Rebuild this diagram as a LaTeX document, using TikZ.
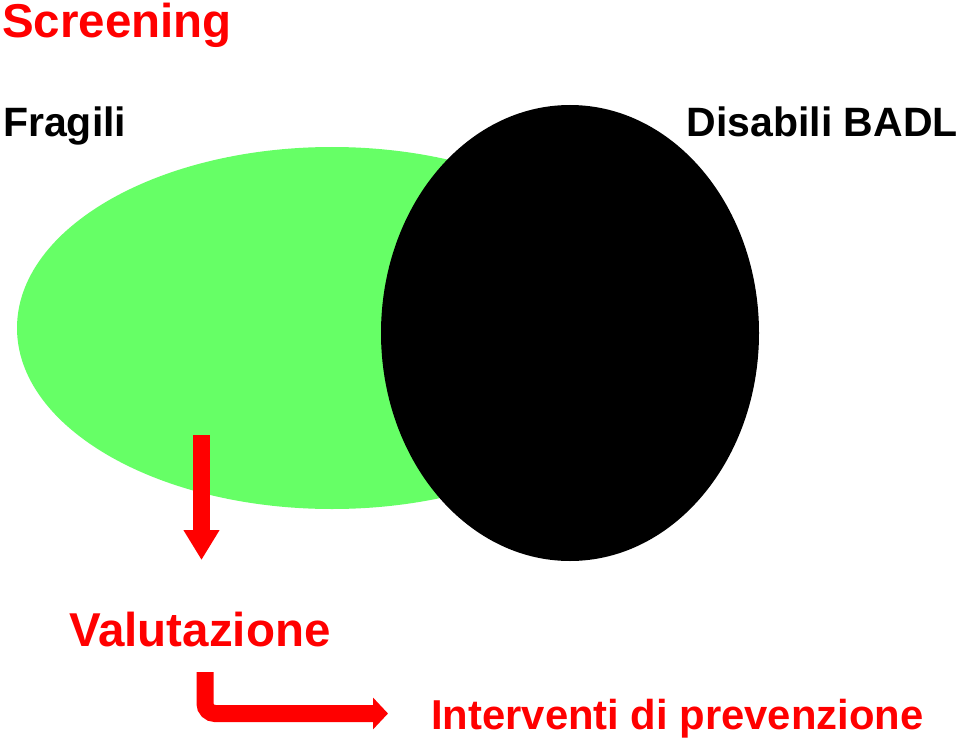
\documentclass[tikz,border=0pt]{standalone}
\usepackage{fontspec}
\setmainfont{Liberation Sans}
\usepackage{pgf,tikz}
\usetikzlibrary{arrows.meta}
\definecolor{ffqqqq}{rgb}{1,0,0}
\definecolor{zzffzz}{rgb}{0.4,1,0.4}

\begin{document}
\begin{tikzpicture}[x=1pt,y=-1pt,
		grande/.style={font=\fontsize{47.5}{56}\selectfont\bfseries,inner sep=0pt,anchor=base west},
		medio/.style={font=\fontsize{41}{48}\selectfont\bfseries,inner sep=0pt,anchor=base west},
		freccia/.style={color=ffqqqq,line width=17pt}]
		\useasboundingbox (0,0) rectangle (960,738);
		\fill[color=zzffzz] (332,328) ellipse (315pt and 181pt);
		\fill[color=black] (570,333) ellipse (189pt and 228pt);
		\node[grande,color=ffqqqq] (screening) at (2,38) {Screening};
		\node[medio] (fragili) at (3,137) {Fragili};
		\node[medio,anchor=base east] (disabili) at (958,137) {Disabili BADL};
		\node[grande,color=ffqqqq] (valutazione) at (69,646) {Valutazione};
		\node[medio,font=\fontsize{41.8}{48}\selectfont\bfseries,color=ffqqqq] (interventi) at (431,729) {Interventi di prevenzione};
		\coordinate (a1) at (201.5,435);
		\coordinate (a2) at (201.5,560);
		\coordinate (b1) at (205,672);
		\coordinate (b2) at (388,713.5);
		\draw[freccia,-{Triangle[length=30pt,width=34pt]}] (a1) -- (a2);
		\draw[freccia,rounded corners=10pt,-{Triangle[length=15pt,width=31pt]}] (b1) |- (b2);
\end{tikzpicture}
\end{document}
